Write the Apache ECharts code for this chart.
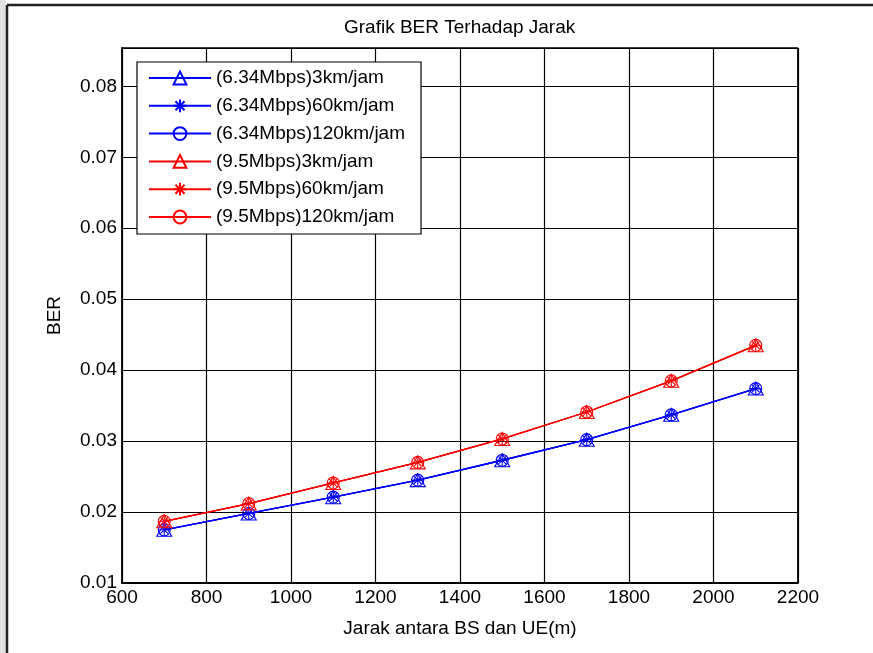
<!DOCTYPE html>
<html>
<head>
<meta charset="utf-8">
<script src="https://cdn.jsdelivr.net/npm/echarts@6/dist/echarts.min.js"></script>
<style>html,body{margin:0;padding:0;background:#fff}#c{width:873px;height:653px}</style>
</head>
<body>
<div id="c"></div>
<script>
// ---- data ----
var distances = [700, 900, 1100, 1300, 1500, 1700, 1900, 2100];
var ber634_3 = [0.0175, 0.0198, 0.0221, 0.0245, 0.0273, 0.0302, 0.0337, 0.0374];
var ber634_60 = [0.0175, 0.0198, 0.0221, 0.0245, 0.0273, 0.0302, 0.0337, 0.0374];
var ber634_120 = [0.0175, 0.0198, 0.0221, 0.0245, 0.0273, 0.0302, 0.0337, 0.0374];
var ber95_3 = [0.0187, 0.0212, 0.0241, 0.0270, 0.0303, 0.0341, 0.0385, 0.0435];
var ber95_60 = [0.0187, 0.0212, 0.0241, 0.0270, 0.0303, 0.0341, 0.0385, 0.0435];
var ber95_120 = [0.0187, 0.0212, 0.0241, 0.0270, 0.0303, 0.0341, 0.0385, 0.0435];
var seriesNames = ['(6.34Mbps)3km/jam', '(6.34Mbps)60km/jam', '(6.34Mbps)120km/jam',
                   '(9.5Mbps)3km/jam', '(9.5Mbps)60km/jam', '(9.5Mbps)120km/jam'];
var titleText = 'Grafik BER Terhadap Jarak';
var xName = 'Jarak antara BS dan UE(m)';
var yName = 'BER';

var FONT = '"Liberation Sans", Arial, Helvetica, sans-serif';
var ASTER = 'path://M5,0 L5,10 M0,5 L10,5 M1.46,1.46 L8.54,8.54 M1.46,8.54 L8.54,1.46';

function mk(name, vals, color, symbol, size) {
  return {
    name: name,
    type: 'line',
    data: distances.map(function (d, i) { return [d, vals[i]]; }),
    symbol: symbol,
    symbolSize: size,
    showAllSymbol: true,
    lineStyle: { color: color, width: 1.3 },
    itemStyle: { color: 'rgba(255,255,255,0)', borderColor: color, borderWidth: 1.1 },
    emphasis: { disabled: true },
    animation: false
  };
}

var chart = echarts.init(document.getElementById('c'), null, { renderer: 'canvas' });
chart.setOption({
  backgroundColor: '#fff',
  animation: false,
  title: {
    text: titleText,
    left: 344, top: 18, padding: 0,
    textStyle: { fontFamily: FONT, fontSize: 19, fontWeight: 'normal', color: '#000' }
  },
  graphic: [
    { type: 'rect', shape: { x: 0, y: 0, width: 6, height: 653 }, style: { fill: '#e2e2e2' }, silent: true },
    { type: 'line', shape: { x1: 7, y1: 5, x2: 873, y2: 5 }, style: { stroke: '#222', lineWidth: 2.5 }, silent: true },
    { type: 'line', shape: { x1: 7, y1: 5, x2: 7, y2: 653 }, style: { stroke: '#222', lineWidth: 2.5 }, silent: true },
    { type: 'line', shape: { x1: 122, y1: 48, x2: 798, y2: 48 }, style: { stroke: '#000', lineWidth: 1.5 }, silent: true, z: 10 },
    { type: 'line', shape: { x1: 798, y1: 48, x2: 798, y2: 583 }, style: { stroke: '#000', lineWidth: 1.8 }, silent: true, z: 10 }
  ],
  legend: {
    orient: 'vertical',
    left: 137, top: 62,
    padding: [6, 16, 7, 11],
    backgroundColor: '#fff',
    borderColor: '#000',
    borderWidth: 1.2,
    borderRadius: 0,
    itemWidth: 62,
    itemHeight: 16,
    itemGap: 7.8,
    data: seriesNames,
    textStyle: { fontFamily: FONT, fontSize: 19, color: '#000', lineHeight: 20 }
  },
  grid: { left: 122, right: 75, top: 48, bottom: 70, containLabel: false },
  xAxis: {
    type: 'value', min: 600, max: 2200, interval: 200,
    name: xName, nameLocation: 'middle', nameGap: 36,
    nameTextStyle: { fontFamily: FONT, fontSize: 19, color: '#000' },
    axisLine: { lineStyle: { color: '#000', width: 1.8 } },
    axisTick: { show: false },
    axisLabel: { fontFamily: FONT, fontSize: 19, color: '#000', margin: 5,
      formatter: function (v) { return String(Math.round(v)); } },
    splitLine: { show: true, lineStyle: { color: '#000', width: 1.2 } }
  },
  yAxis: {
    type: 'value', min: 0.01, max: 0.0854, interval: 0.01,
    name: yName, nameLocation: 'middle', nameGap: 58, nameRotate: 90,
    nameTextStyle: { fontFamily: FONT, fontSize: 19, color: '#000' },
    axisLine: { show: true, lineStyle: { color: '#000', width: 1.8 } },
    axisTick: { show: false },
    axisLabel: {
      fontFamily: FONT, fontSize: 19, color: '#000', margin: 5, showMaxLabel: false,
      formatter: function (v) {
        var r = Math.round(v * 100);
        if (Math.abs(v * 100 - r) > 1e-6) return '';
        return (r / 100).toFixed(2);
      }
    },
    splitLine: { show: true, lineStyle: { color: '#000', width: 1.2 } }
  },
  series: [
    mk(seriesNames[0], ber634_3, '#0000ff', 'triangle', [15, 13]),
    mk(seriesNames[1], ber634_60, '#0000ff', ASTER, 11),
    mk(seriesNames[2], ber634_120, '#0000ff', 'circle', 12),
    mk(seriesNames[3], ber95_3, '#ff0000', 'triangle', [15, 13]),
    mk(seriesNames[4], ber95_60, '#ff0000', ASTER, 11),
    mk(seriesNames[5], ber95_120, '#ff0000', 'circle', 12)
  ]
});
</script>
</body>
</html>
